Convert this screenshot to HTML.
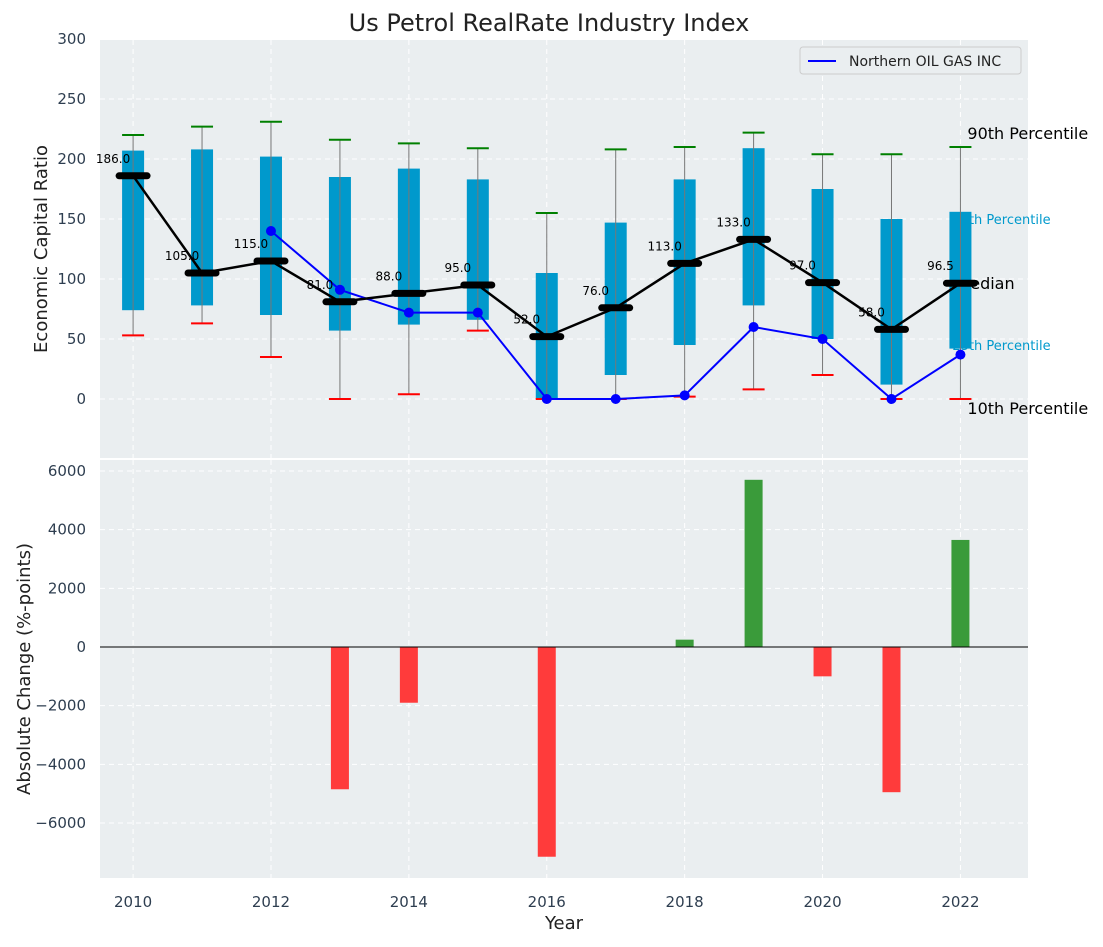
<!DOCTYPE html>
<html><head><meta charset="utf-8"><style>
body{margin:0;background:#fff;font-family:"Liberation Sans","DejaVu Sans",sans-serif}
svg text{font-family:"DejaVu Sans","Liberation Sans",sans-serif}
</style></head><body>
<svg id="c" width="1103" height="942" xmlns="http://www.w3.org/2000/svg"></svg>
<script>
const years=[2010,2011,2012,2013,2014,2015,2016,2017,2018,2019,2020,2021,2022];
const boxLow=[74,78,70,57,62,66,0,20,45,78,50,12,42];
const boxHigh=[207,208,202,185,192,183,105,147,183,209,175,150,156];
const whiskLow=[53,63,35,0,4,57,0,0,2,8,20,0,0];
const whiskHigh=[220,227,231,216,213,209,155,208,210,222,204,204,210];
const medians=[186,105,115,81,88,95,52,76,113,133,97,58,96.5];
const compYears=[2012,2013,2014,2015,2016,2017,2018,2019,2020,2021,2022];
const compValues=[140,91,72,72,0,0,3,60,50,0,37];
const changes=[0,0,0,-4850,-1900,0,-7150,0,250,5700,-1000,-4950,3650];
const topTicks=[0,50,100,150,200,250,300];
const botTicks=[-6000,-4000,-2000,0,2000,4000,6000];
const xTicks=[2010,2012,2014,2016,2018,2020,2022];

const svg=document.getElementById('c');const NS='http://www.w3.org/2000/svg';
function el(t,a,p){const e=document.createElementNS(NS,t);for(const k in a)e.setAttribute(k,a[k]);(p||svg).appendChild(e);return e;}
const L=100,R=1028;
const X=v=>L+(v-2009.52)*(R-L)/(22.98-9.52);
const Y1=v=>399-v*1.2;
const Y2=v=>647-v*(176/6000);
let bg=el('rect',{x:L,y:40,width:R-L,height:418,fill:'#eaeef0'});


let bg2=el('rect',{x:L,y:460,width:R-L,height:418,fill:'#eaeef0'});


xTicks.forEach(t=>{[[40,458],[460,878]].forEach(r=>{el('line',{x1:X(t),x2:X(t),y1:r[0],y2:r[1],stroke:'#fff','stroke-dasharray':'5,4','stroke-width':1});});
 const tx=el('text',{x:X(t),y:907,'text-anchor':'middle','font-size':15,fill:'#2e3e50'});tx.textContent=t;
 
 });
topTicks.forEach(t=>{el('line',{x1:L,x2:R,y1:Y1(t),y2:Y1(t),stroke:'#fff','stroke-dasharray':'5,4'});
 const tx=el('text',{x:86,y:Y1(t)+5,'text-anchor':'end','font-size':15,fill:'#2e3e50'});tx.textContent=t;
 
 });
botTicks.forEach(t=>{el('line',{x1:L,x2:R,y1:Y2(t),y2:Y2(t),stroke:'#fff','stroke-dasharray':'5,4'});
 const tx=el('text',{x:86,y:Y2(t)+5,'text-anchor':'end','font-size':15,fill:'#2e3e50'});tx.textContent=(t<0?'\u2212'+(-t):t);
 
 });
const xa=X(2022);
[['90th Percentile',xa+7,Y1(210)-8,16,'#000'],['75th Percentile',xa-8,Y1(150)+5,13,'#0099cc'],['Median',xa-4,Y1(96.5)+6,16,'#000'],['25th Percentile',xa-8,Y1(45)+5,13,'#0099cc'],['10th Percentile',xa+7,Y1(0)+15,16,'#000']].forEach(a=>{
 const t=el('text',{x:a[1],y:a[2],'font-size':a[3],fill:a[4]});t.textContent=a[0];
 
 });
years.forEach((y,i)=>{const x=X(y);
 const b=el('rect',{x:x-11,y:Y1(boxHigh[i]),width:22,height:Y1(boxLow[i])-Y1(boxHigh[i]),fill:'#0099cc'});
 
 
 el('line',{x1:x,x2:x,y1:Y1(whiskHigh[i]),y2:Y1(whiskLow[i]),stroke:'#777','stroke-width':1});
 el('line',{x1:x-11,x2:x+11,y1:Y1(whiskHigh[i]),y2:Y1(whiskHigh[i]),stroke:'green','stroke-width':2});
 el('line',{x1:x-11,x2:x+11,y1:Y1(whiskLow[i]),y2:Y1(whiskLow[i]),stroke:'red','stroke-width':2});
});
el('polyline',{points:compYears.map((y,i)=>X(y)+','+Y1(compValues[i])).join(' '),fill:'none',stroke:'blue','stroke-width':2});
compYears.forEach((y,i)=>{const c=el('circle',{cx:X(y),cy:Y1(compValues[i]),r:5,fill:'blue'});
 
 });
el('polyline',{points:years.map((y,i)=>X(y)+','+Y1(medians[i])).join(' '),fill:'none',stroke:'#000','stroke-width':2.5});
years.forEach((y,i)=>{const x=X(y),yy=Y1(medians[i]);
 const m=el('line',{x1:x-14,x2:x+14,y1:yy,y2:yy,stroke:'#000','stroke-width':7,'stroke-linecap':'round'});
 
 
 const t=el('text',{x:x-20,y:yy-13,'text-anchor':'middle','font-size':12,fill:'#000'});t.textContent=medians[i].toFixed(1);
 
 });
years.forEach((y,i)=>{const v=changes[i];if(!v)return;const x=X(y);
 const b=el('rect',{x:x-9,y:Math.min(Y2(v),Y2(0)),width:18,height:Math.abs(Y2(v)-Y2(0)),fill:v>0?'#3a9b3a':'#ff3b3b'});
 
 });
el('line',{x1:L,x2:R,y1:Y2(0),y2:Y2(0),stroke:'#000','stroke-width':1});
const tt=el('text',{x:549,y:31,'text-anchor':'middle','font-size':24,fill:'#222'});tt.textContent='Us Petrol RealRate Industry Index';


const xl=el('text',{x:564,y:929,'text-anchor':'middle','font-size':18,fill:'#222'});xl.textContent='Year';


const y1=el('text',{x:47,y:249,'text-anchor':'middle','font-size':18,fill:'#222',transform:'rotate(-90 47 249)'});y1.textContent='Economic Capital Ratio';


const y2=el('text',{x:30,y:669,'text-anchor':'middle','font-size':18,fill:'#222',transform:'rotate(-90 30 669)'});y2.textContent='Absolute Change (%-points)';


const lg=el('g',{});


el('rect',{x:800,y:47,width:221,height:27,rx:3,fill:'#eaeef0',stroke:'#ccc'},lg);
el('line',{x1:808,x2:836,y1:61,y2:61,stroke:'blue','stroke-width':2},lg);
const lt=el('text',{x:849,y:66,'font-size':14,fill:'#222'},lg);lt.textContent='Northern OIL GAS INC';
</script>
</body></html>
